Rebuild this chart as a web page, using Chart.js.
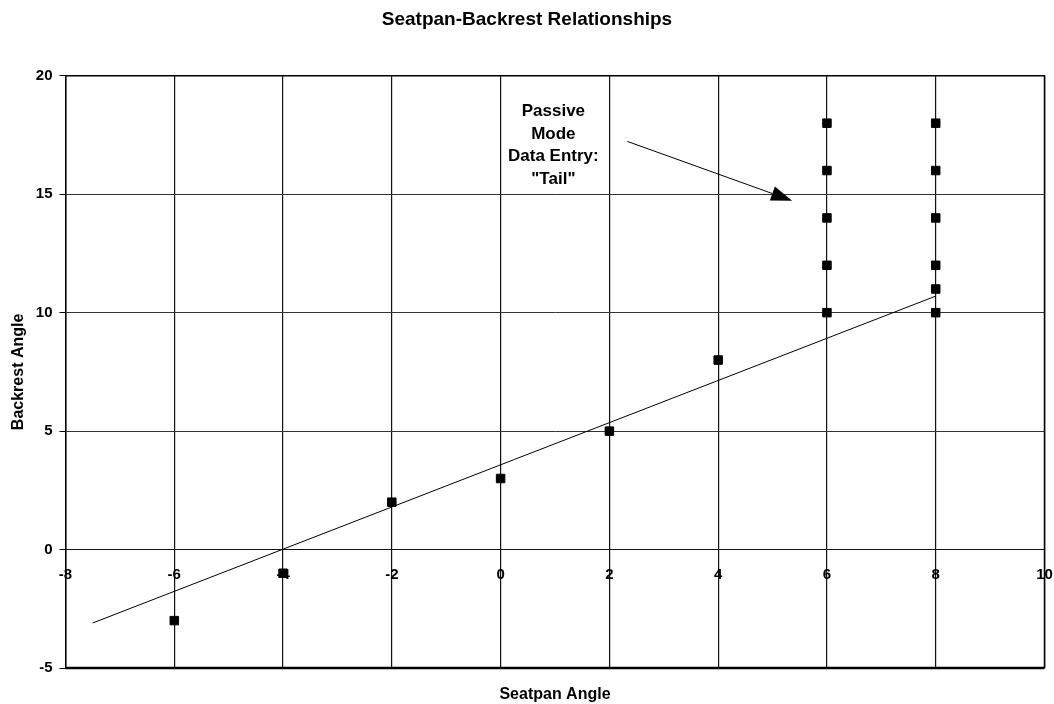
<!DOCTYPE html>
<html>
<head>
<meta charset="utf-8">
<script src="https://cdn.jsdelivr.net/npm/chart.js@4/dist/chart.umd.min.js"></script>
<style>
  html, body { margin: 0; padding: 0; background: #fff; }
  #wrap { width: 1054px; height: 704px; }
</style>
</head>
<body>
<div id="wrap"><canvas id="c" width="1054" height="704"></canvas></div>
<script>
// ---- data ----
const seatpanAngle  = [-6, -4, -2, 0, 2, 4, 6, 6, 6, 6, 6, 8, 8, 8, 8, 8, 8];
const backrestAngle = [-3, -1, 2, 3, 5, 8, 10, 12, 14, 16, 18, 10, 11, 12, 14, 16, 18];
const trendX = [-7.5, 8];
const trendY = [-3.1, 10.7];
const xTickValues = [-8, -6, -4, -2, 0, 2, 4, 6, 8, 10];
const yTickValues = [-5, 0, 5, 10, 15, 20];
const noteLines = ['Passive', 'Mode', 'Data Entry:', '"Tail"'];

const FONT = '"Liberation Sans", Arial, Helvetica, sans-serif';

const points = seatpanAngle.map((x, i) => ({ x: x, y: backrestAngle[i] }));
const trend = trendX.map((x, i) => ({ x: x, y: trendY[i] }));

const frameAndNote = {
  id: 'frameAndNote',
  afterDatasetsDraw(chart) {
    const { ctx, chartArea: a, scales } = chart;
    const xs = scales.x, ys = scales.y;
    ctx.save();
    // plot frame
    ctx.strokeStyle = '#000';
    ctx.lineWidth = 1.5;
    ctx.beginPath();
    ctx.moveTo(a.left, a.top); ctx.lineTo(a.right, a.top); ctx.lineTo(a.right, a.bottom);
    ctx.stroke();
    ctx.lineWidth = 2.5;
    ctx.beginPath();
    ctx.moveTo(a.left, a.bottom); ctx.lineTo(a.right, a.bottom);
    ctx.stroke();
    // annotation text
    ctx.fillStyle = '#000';
    ctx.font = 'bold 17px ' + FONT;
    ctx.textAlign = 'center';
    ctx.textBaseline = 'middle';
    const tx = xs.getPixelForValue(0.97);
    const ty0 = ys.getPixelForValue(18.5);
    noteLines.forEach((t, i) => ctx.fillText(t, tx, ty0 + i * 22.7));
    // arrow
    const x1 = xs.getPixelForValue(2.33), y1 = ys.getPixelForValue(17.23);
    const x2 = xs.getPixelForValue(5.36), y2 = ys.getPixelForValue(14.73);
    const ang = Math.atan2(y2 - y1, x2 - x1);
    const hl = 21, hw = 7.5;
    ctx.lineWidth = 1;
    ctx.beginPath();
    ctx.moveTo(x1, y1);
    ctx.lineTo(x2 - hl * Math.cos(ang), y2 - hl * Math.sin(ang));
    ctx.stroke();
    ctx.beginPath();
    ctx.moveTo(x2, y2);
    ctx.lineTo(x2 - hl * Math.cos(ang) + hw * Math.sin(ang), y2 - hl * Math.sin(ang) - hw * Math.cos(ang));
    ctx.lineTo(x2 - hl * Math.cos(ang) - hw * Math.sin(ang), y2 - hl * Math.sin(ang) + hw * Math.cos(ang));
    ctx.closePath();
    ctx.fill();
    ctx.restore();
  }
};

const sidePad = (s) => { s.paddingLeft = 0; s.paddingRight = 9.5; };

new Chart(document.getElementById('c'), {
  type: 'scatter',
  data: {
    datasets: [
      {
        label: 'Data',
        data: points,
        pointStyle: 'rect',
        pointRadius: 6,
        pointBackgroundColor: '#000',
        pointBorderColor: '#000',
        pointBorderWidth: 1,
        showLine: false,
        order: 1
      },
      {
        label: 'Trend',
        data: trend,
        showLine: true,
        borderColor: '#000',
        borderWidth: 1,
        pointRadius: 0,
        fill: false,
        order: 2
      }
    ]
  },
  options: {
    responsive: false,
    animation: false,
    events: [],
    layout: { padding: 0 },
    plugins: {
      legend: { display: false },
      tooltip: { enabled: false },
      title: {
        display: true,
        text: 'Seatpan-Backrest Relationships',
        color: '#000',
        font: { family: FONT, size: 19, weight: 'bold' },
        padding: { top: 8, bottom: 45 }
      }
    },
    scales: {
      x: {
        type: 'linear',
        position: { y: 0 },
        min: -8, max: 10,
        afterBuildTicks: (s) => { s.ticks = xTickValues.map(v => ({ value: v })); },
        afterFit: sidePad,
        ticks: {
          color: '#000',
          font: { family: FONT, size: 15, weight: 'bold' },
          padding: 16,
          maxRotation: 0,
          autoSkip: false
        },
        grid: { color: '#111', lineWidth: 1.2, drawTicks: false },
        border: { display: true, color: '#111', width: 1 }
      },
      x2: {
        type: 'linear',
        position: 'bottom',
        min: -8, max: 10,
        ticks: { display: false },
        grid: { display: false, drawTicks: false },
        border: { display: false },
        title: {
          display: true,
          text: 'Seatpan Angle',
          color: '#000',
          font: { family: FONT, size: 16, weight: 'bold' },
          padding: { top: 0, bottom: 0 }
        },
        afterFit: (s) => { s.height = 36; s.paddingLeft = 0; s.paddingRight = 9.5; }
      },
      y: {
        type: 'linear',
        position: 'left',
        min: -5, max: 20,
        afterBuildTicks: (s) => { s.ticks = yTickValues.map(v => ({ value: v })); },
        ticks: {
          color: '#000',
          font: { family: FONT, size: 15, weight: 'bold' },
          padding: 7
        },
        grid: { color: '#333', lineWidth: 1, tickLength: 6, tickColor: '#000' },
        border: { display: true, color: '#000', width: 1.5 },
        title: {
          display: true,
          text: 'Backrest Angle',
          color: '#000',
          font: { family: FONT, size: 16, weight: 'bold' },
          padding: { top: 9, bottom: 0 }
        },
        afterFit: (s) => { s.width = 65.5; s.paddingTop = 0; s.paddingBottom = 0; }
      }
    }
  },
  plugins: [frameAndNote]
});
</script>
</body>
</html>
